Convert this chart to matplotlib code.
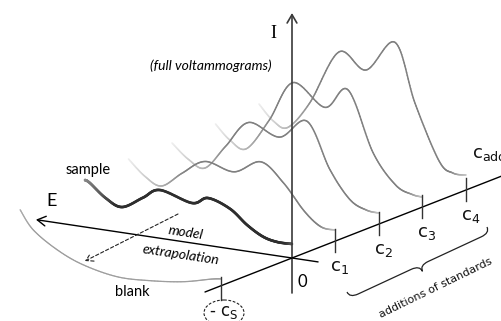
import numpy as np
import matplotlib
matplotlib.use("Agg")
import matplotlib.pyplot as plt
from matplotlib.path import Path
from matplotlib.patches import PathPatch, FancyArrowPatch, Ellipse
from matplotlib.transforms import Affine2D
from matplotlib.collections import LineCollection

# ---------------------------------------------------------------- data
# standard additions along the concentration axis
conc_values = [1, 2, 3, 4]
conc_labels = ["c$_1$", "c$_2$", "c$_3$", "c$_4$"]
blank_conc = -1.63          # extrapolated point, -c_S

# voltammograms: potential E (0 = near axis, 1 = far end) and current I
sample_E = [1.00, 0.976, 0.90, 0.821, 0.72, 0.638, 0.483, 0.406, 0.30, 0.217, 0.14, 0.072, 0.0]
sample_I = [47, 44.7, 32, 25.5, 38, 48.2, 40, 47.4, 40, 26.3, 17, 13.8, 14]

add_E = {
    1: [1.00, 0.92, 0.84, 0.74, 0.63, 0.49, 0.36, 0.25, 0.15, 0.07, 0.0],
    2: [1.00, 0.92, 0.84, 0.74, 0.63, 0.48, 0.348, 0.237, 0.14, 0.06, 0.0],
    3: [1.00, 0.93, 0.85, 0.74, 0.626, 0.471, 0.36, 0.239, 0.13, 0.05, 0.0],
    4: [1.00, 0.93, 0.86, 0.754, 0.614, 0.483, 0.343, 0.246, 0.13, 0.063, 0.0],
}
add_I = {
    1: [51, 36, 29, 45, 60, 54, 68, 50, 25, 12, 11],
    2: [50, 36, 30, 55, 82, 72, 92, 47, 20, 12, 11],
    3: [52, 38, 32, 64, 105, 85, 106, 47, 18, 11, 10],
    4: [55, 40, 36, 64, 119, 105, 137, 79, 25, 15, 15],
}

blank_E = [0.971, 0.908, 0.792, 0.667, 0.502, 0.343, 0.184, 0.05, 0.0]
blank_I = [45.9, 27.8, 11.4, 0.3, -6.6, -5.6, -1.7, 5, 7]

# ---------------------------------------------------------------- canvas
W, H = 501, 321
fig = plt.figure(figsize=(W / 100, H / 100), dpi=100)
ax = fig.add_axes([0, 0, 1, 1])
ax.set_xlim(0, W)
ax.set_ylim(H, 0)
ax.axis("off")

# oblique projection of the (c, E, I) space
ORIGIN = (292.0, 258.0)
E_STEP = (-207.0, -31.0)
C_STEP = (43.5, -17.0)


def plane(c):
    """(E, I) in the voltammogram plane located at concentration c."""
    m = np.array([[E_STEP[0], 0.0, ORIGIN[0] + C_STEP[0] * c],
                  [E_STEP[1], -1.0, ORIGIN[1] + C_STEP[1] * c],
                  [0.0, 0.0, 1.0]])
    return Affine2D(m) + ax.transData


# (c, I) plane at E = 0
cplane = Affine2D(np.array([[C_STEP[0], 0.0, ORIGIN[0]],
                            [C_STEP[1], -1.0, ORIGIN[1]],
                            [0.0, 0.0, 1.0]])) + ax.transData


def smooth_path(E, I):
    P = np.column_stack([E, I]).astype(float)
    n = len(P)
    verts = [P[0]]
    codes = [Path.MOVETO]
    for i in range(n - 1):
        p0 = P[max(i - 1, 0)]
        p1 = P[i]
        p2 = P[i + 1]
        p3 = P[min(i + 2, n - 1)]
        verts += [p1 + (p2 - p0) / 6.0, p2 - (p3 - p1) / 6.0, p2]
        codes += [Path.CURVE4] * 3
    return Path(verts, codes)


def sampled(path, k=24):
    pts = []
    t = np.linspace(0, 1, k)
    for seg, code in path.iter_bezier():
        if code == Path.MOVETO:
            continue
        pts.append(seg(t))
    return np.vstack(pts)


def draw_curve(c, E, I, gray, lw, left=(0.72, 1.0, 0.12), right=(0.08, 0.0, 0.45), z=3):
    pts = sampled(smooth_path(E, I))
    segs = np.stack([pts[:-1], pts[1:]], axis=1)
    em = 0.5 * (pts[:-1, 0] + pts[1:, 0])
    a = np.ones_like(em)
    e0, e1, amin = left
    m = em > e0
    a[m] = 1 - (1 - amin) * np.clip((em[m] - e0) / (e1 - e0), 0, 1)
    r0, r1, rmin = right
    m = em < r0
    a[m] = np.minimum(a[m], rmin + (1 - rmin) * np.clip((em[m] - r1) / (r0 - r1), 0, 1))
    shade = 1 - a * (1 - gray)
    cols = np.column_stack([shade, shade, shade, np.ones_like(shade)])
    lc = LineCollection(segs, colors=cols, linewidths=lw, capstyle="round",
                        transform=plane(c), zorder=z)
    ax.add_collection(lc, autolim=False)


# ---------------------------------------------------------------- curves
for c in [4, 3, 2, 1]:
    draw_curve(c, add_E[c], add_I[c], 0.50, 1.1, z=2 + 0.1 * (5 - c))
draw_curve(0, sample_E, sample_I, 0.18, 1.9, left=(0.85, 1.0, 0.55), right=(0.03, 0.0, 0.8), z=4)
draw_curve(blank_conc, blank_E, blank_I, 0.62, 0.9, left=(0.9, 1.0, 0.8), right=(0.01, 0.0, 0.9), z=2)

# ---------------------------------------------------------------- axes of the scheme
arrow_kw = dict(shrinkA=0, shrinkB=0, mutation_scale=1, zorder=5)
ax.add_patch(FancyArrowPatch((-0.126, 0), (1.237, 0), transform=plane(0),
                             arrowstyle="->,head_length=6,head_width=3.5",
                             color="black", lw=1.0, **arrow_kw))
ax.add_patch(FancyArrowPatch((0, -35), (0, 245), transform=plane(0),
                             arrowstyle="->,head_length=6,head_width=3.5",
                             color="#3a3a3a", lw=1.2, **arrow_kw))
ax.add_patch(FancyArrowPatch((-2.0, 0), (5.25, 0), transform=cplane,
                             arrowstyle="->,head_length=6,head_width=3.5",
                             color="black", lw=1.0, **arrow_kw))

# ticks on the concentration axis
for cv in conc_values:
    ax.plot([cv, cv], [-11, 12], color="#333333", lw=1.0, transform=cplane, zorder=5)
ax.plot([blank_conc, blank_conc], [-14, 9], color="#333333", lw=1.0, transform=cplane, zorder=5)

# ---------------------------------------------------------------- labels
sans = "DejaVu Sans"
cal = "Lato"
for cv, lab in zip(conc_values, conc_labels):
    ax.text(cv + 0.1, -28, lab, transform=cplane, ha="center", va="center",
            fontsize=13, family=sans, color="#111111")
ax.text(472, 154, r"c$_{\mathrm{add}}$", ha="left", va="center", fontsize=13,
        family=sans, color="#111111", clip_on=False)
ax.text(302, 282, "0", ha="center", va="center", fontsize=12, family=cal)
ax.text(273, 34, "I", ha="center", va="center", fontsize=13, family="Liberation Serif")
ax.text(52, 201, "E", ha="center", va="center", fontsize=13, family=cal)
ax.text(211, 66, "(full voltammograms)", ha="center", va="center", fontsize=10,
        family=cal, style="italic")
ax.text(88, 170, "sample", ha="center", va="center", fontsize=10.5, family=cal)
ax.text(132, 292, "blank", ha="center", va="center", fontsize=10.5, family=cal)
ax.text(186, 233, "model", ha="center", va="center", fontsize=10, family=cal,
        style="italic", rotation=-8.5, rotation_mode="anchor")
ax.text(181, 255, "extrapolation", ha="center", va="center", fontsize=10, family=cal,
        style="italic", rotation=-8.5, rotation_mode="anchor")

# -c_S marker
ax.add_patch(Ellipse((224, 313), 40, 26, fill=False, ls=(0, (2.5, 1.5)), lw=0.8,
                     color="#222222", zorder=5))
ax.text(224, 312, r"- c$_{\mathrm{S}}$", ha="center", va="center", fontsize=12,
        family=sans, color="#111111")

# dashed extrapolation arrow
ax.add_patch(FancyArrowPatch((178, 214), (85, 261), arrowstyle="->,head_length=5,head_width=3",
                             ls=(0, (3, 2)), lw=0.8, color="#222222", **arrow_kw))

# brace below the standard additions
p_left = np.array([347.0, 292.0])
p_right = np.array([487.0, 227.0])
d = p_right - p_left
L = np.hypot(*d)
u = d / L
v = np.array([-u[1], u[0]])
if v[1] < 0:
    v = -v
h = 13.0
loc = [(0, 0), (0.0, 0.5), (0.06, 0.5),
       (0.44, 0.5), (0.5, 0.5), (0.5, 1.0),
       (0.5, 0.5), (0.56, 0.5),
       (0.94, 0.5), (1.0, 0.5), (1.0, 0.0)]
codes = [Path.MOVETO, Path.CURVE3, Path.CURVE3,
         Path.LINETO, Path.CURVE3, Path.CURVE3,
         Path.CURVE3, Path.CURVE3,
         Path.LINETO, Path.CURVE3, Path.CURVE3]
bv = [p_left + a * L * u + b * h * v for a, b in loc]
ax.add_patch(PathPatch(Path(bv, codes), fill=False, lw=0.9, color="#222222", zorder=5))
ax.text(436, 288, "additions of standards", ha="center", va="center", fontsize=8,
        family=sans, rotation=26, rotation_mode="anchor", color="#111111")

fig.savefig("out.png", dpi=100)
